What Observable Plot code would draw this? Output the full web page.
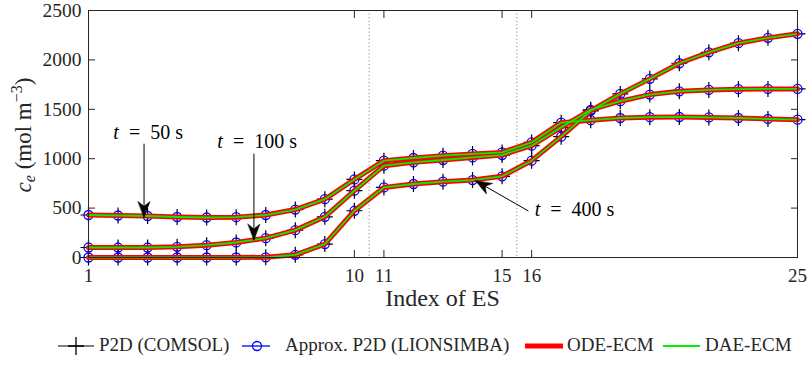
<!DOCTYPE html>
<html><head><meta charset="utf-8">
<script src="https://cdn.jsdelivr.net/npm/d3@7"></script>
<script src="https://cdn.jsdelivr.net/npm/@observablehq/plot@0.6"></script>
<style>
body{margin:0;background:#fff;}
#wrap{position:relative;width:809px;height:365px;font-family:'Liberation Serif';color:#262626;overflow:hidden}
#legend{position:absolute;left:0;top:325px;width:809px;height:40px;}
.item{position:absolute;top:0;height:40px;display:flex;align-items:center;font-size:19px;white-space:nowrap}
.item svg{display:block}
</style></head><body><div id="wrap"><div id="chart"></div><div id="legend"></div></div>
<script>
// ---- data ----
const esIndex = [1,2,3,4,5,6,7,8,9,10,11,12,13,14,15,16,17,18,19,20,21,22,23,24,25];
const ce50  = [430,425,420,410,405,408,430,485,590,790,980,1007,1031,1048,1064,1165,1365,1390,1412,1420,1422,1418,1412,1402,1395];
const ce100 = [101,101,101,108,125,152,196,277,412,676,929,963,987,1013,1037,1132,1317,1495,1582,1649,1682,1696,1704,1706,1706];
const ce400 = [0,0,0,0,0,0,2,27,136,473,709,744,767,784,822,980,1223,1485,1656,1808,1966,2077,2169,2223,2264];
const seriesTimes = ["50","100","400"];
const xTicks = [1,10,11,15,16,25];
const yTicks = [0,500,1000,1500,2000,2500];
const dividers = [10.5, 15.5];
// annotations
const annoText = ["t = 50 s","t = 100 s","t = 400 s"];
const annoTextX = [3.02, 6.71, 17.45];
const annoTextY = [1269, 1172, 483];
const arrowX1 = [2.88, 6.60, 15.89];
const arrowY1 = [1152, 1051, 471];
const arrowX2 = [2.88, 6.60, 14.10];
const arrowY2 = [405, 176, 777];
const arrowRot = [180, 180, -60];
const legendLabels = ["P2D (COMSOL)","Approx. P2D (LIONSIMBA)","ODE-ECM","DAE-ECM"];

// ---- tables ----
const seriesVals = [ce50, ce100, ce400];
const rows = [];
seriesTimes.forEach((t, s) => esIndex.forEach((i, k) => rows.push({t, i, ce: seriesVals[s][k]})));
const arrows = arrowX1.map((x, k) => ({x1: x, y1: arrowY1[k], x2: arrowX2[k], y2: arrowY2[k], rot: arrowRot[k]}));
const annos = annoText.map((s, k) => ({s, x: annoTextX[k], y: annoTextY[k]}));

const INK = "#262626";
const FONT = "Liberation Serif";
const plusSym = {draw(ctx, size){ const r = Math.sqrt(size/Math.PI); ctx.moveTo(-r,0); ctx.lineTo(r,0); ctx.moveTo(0,-r); ctx.lineTo(0,r); }};
const headShape = {draw(ctx, l, r){ ctx.moveTo(0,-l); ctx.lineTo(-r,0); ctx.lineTo(0,-l*0.3); ctx.lineTo(r,0); ctx.closePath(); }};

const chart = Plot.plot({
  width: 809, height: 325,
  marginTop: 10, marginBottom: 68, marginLeft: 88, marginRight: 12,
  x: {domain: [1,25]},
  y: {domain: [0,2500]},
  style: {fontFamily: FONT, color: INK, background: "white", overflow: "visible"},
  marks: [
    Plot.ruleX(dividers, {stroke: "#777", strokeDasharray: "1,2.6", strokeWidth: 1}),
    Plot.axisX(xTicks, {anchor: "bottom", tickSize: 0, tickPadding: 11, fontSize: 19, label: null, tickFormat: d => String(d)}),
    Plot.axisX(xTicks, {anchor: "bottom", tickSize: -7, tickFormat: () => "", label: null}),
    Plot.axisX(xTicks, {anchor: "top", tickSize: -7, tickFormat: () => "", label: null}),
    Plot.axisY(yTicks, {anchor: "left", tickSize: 0, tickPadding: 7, fontSize: 19.5, label: null, tickFormat: d => String(d)}),
    Plot.axisY(yTicks, {anchor: "left", tickSize: -7, tickFormat: () => "", label: null}),
    Plot.axisY(yTicks, {anchor: "right", tickSize: -7, tickFormat: () => "", label: null}),
    Plot.line(rows, {x: "i", y: "ce", z: "t", stroke: "black", strokeWidth: 1}),
    Plot.dot(rows, {x: "i", y: "ce", symbol: plusSym, r: 8, stroke: "black", fill: "none", strokeWidth: 1.2}),
    Plot.line(rows, {x: "i", y: "ce", z: "t", stroke: "blue", strokeWidth: 1}),
    Plot.dot(rows, {x: "i", y: "ce", r: 4.5, stroke: "blue", fill: "none", strokeWidth: 1.3}),
    Plot.line(rows, {x: "i", y: "ce", z: "t", stroke: "#ff0000", strokeWidth: 5}),
    Plot.line(rows, {x: "i", y: "ce", z: "t", stroke: "#00f000", strokeWidth: 1.8}),
    Plot.frame({stroke: INK, strokeWidth: 1}),
    Plot.link(arrows, {x1: "x1", y1: "y1", x2: "x2", y2: "y2", stroke: "black", strokeWidth: 1}),
    Plot.vector(arrows, {x: "x2", y: "y2", rotate: "rot", length: 16, r: 6, anchor: "end", shape: headShape, fill: "black", stroke: "black", strokeWidth: 0.5}),
    Plot.text(annos, {x: "x", y: "y", text: "s", fontSize: 20, textAnchor: "middle", lineAnchor: "middle", fill: "black"})
  ]
});
document.getElementById("chart").appendChild(chart);

const svg = d3.select(chart);
// annotation italic t
svg.selectAll('g[aria-label="text"] text').each(function(){
  const s = this.textContent; const rest = s.slice(1).replace(/ = /, "\u2002=\u2002");
  d3.select(this).text(null);
  d3.select(this).append("tspan").attr("font-style","italic").text("t");
  d3.select(this).append("tspan").text(rest);
});
// x label
svg.append("text").attr("x", 442.5).attr("y", 306).attr("text-anchor","middle")
  .attr("font-size", 24).attr("fill", INK).attr("font-family", FONT).text("Index of ES");
// y label
const yl = svg.append("text").attr("transform","translate(31,135) rotate(-90)")
  .attr("text-anchor","middle").attr("font-size",23).attr("fill",INK).attr("font-family", FONT).style("white-space","pre");
yl.append("tspan").attr("font-style","italic").text("c");
yl.append("tspan").attr("font-style","italic").attr("font-size",16).attr("dy",4).text("e");
yl.append("tspan").attr("dy",-4).text(" (mol m");
yl.append("tspan").attr("font-size",16).attr("dy",-9).text("\u22123");
yl.append("tspan").attr("dy",9).text(")");

// legend
const legLeft = [58, 242, 525, 663];
const swW = [36, 36, 38, 37];
const textLeft = [99, 285, 567, 705];
const leg = d3.select("#legend");
legendLabels.forEach((lab, k) => {
  const it = leg.append("div").attr("class","item").style("left", legLeft[k]+"px");
  const s = it.append("svg").attr("width", textLeft[k]-legLeft[k]).attr("height", 40);
  const w = swW[k], cy = 21;
  if (k === 0) {
    s.append("line").attr("x1",0).attr("x2",w).attr("y1",cy).attr("y2",cy).attr("stroke","black").attr("stroke-width",1);
    s.append("path").attr("d",`M${w/2-8},${cy}H${w/2+8}M${w/2},${cy-9}V${cy+9}`).attr("stroke","black").attr("stroke-width",1.3);
  } else if (k === 1) {
    s.append("line").attr("x1",0).attr("x2",28).attr("y1",cy).attr("y2",cy).attr("stroke","blue").attr("stroke-width",1.3);
    s.append("circle").attr("cx",15).attr("cy",cy).attr("r",4.5).attr("fill","none").attr("stroke","blue").attr("stroke-width",1.3);
  } else if (k === 2) {
    s.append("line").attr("x1",0).attr("x2",w).attr("y1",cy).attr("y2",cy).attr("stroke","#ff0000").attr("stroke-width",5);
  } else {
    s.append("line").attr("x1",0).attr("x2",w).attr("y1",cy).attr("y2",cy).attr("stroke","#00f000").attr("stroke-width",1.8);
  }
  it.append("span").text(lab);
});
</script></body></html>
